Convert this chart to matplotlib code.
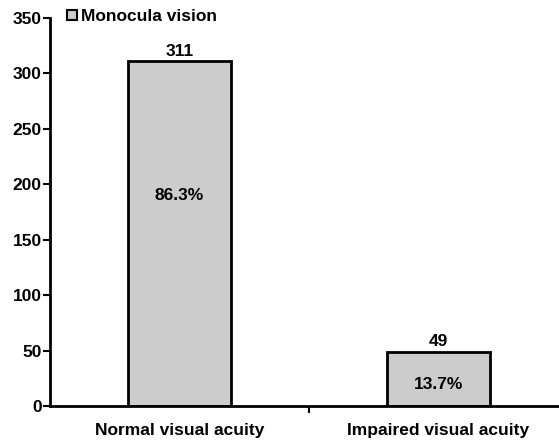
import matplotlib.pyplot as plt
from matplotlib.lines import Line2D

categories = ["Normal visual acuity", "Impaired visual acuity"]
counts = [311, 49]
percents = ["86.3%", "13.7%"]
pct_y = [190, 19]
yticks = [0, 50, 100, 150, 200, 250, 300, 350]

plt.rcParams['font.family'] = ['Liberation Sans', 'DejaVu Sans']
plt.rcParams['font.size'] = 12.5
plt.rcParams['font.weight'] = 'bold'

fig = plt.figure(figsize=(5.59, 4.42), dpi=100)
# the x axis runs a little past the right edge of the figure
ax = fig.add_axes([50 / 559, 36 / 442, 518 / 559, 388 / 442])

pos = [0.5, 1.5]
ax.bar(pos, counts, width=0.40, color="#cccccc", edgecolor="black", linewidth=2)

for x, c, p, py in zip(pos, counts, percents, pct_y):
    ax.text(x, c + 2, str(c), ha="center", va="bottom")
    ax.text(x, py, p, ha="center", va="center")

ax.set_xlim(0, 2)
ax.set_ylim(0, 350)
ax.set_yticks(yticks)
ax.set_xticks([1])
ax.set_xticklabels([""])
ax.set_xticks(pos, minor=True)
ax.set_xticklabels(categories, minor=True)
ax.tick_params(axis="x", which="minor", length=0, pad=12)
ax.tick_params(axis="x", which="major", length=5, width=1.5)
ax.tick_params(axis="y", length=5, width=1.5, pad=1)

for s in ["top", "right"]:
    ax.spines[s].set_visible(False)
for s in ["left", "bottom"]:
    ax.spines[s].set_linewidth(2)

handle = Line2D([], [], marker="s", linestyle="none", markersize=7.5,
                markerfacecolor="#cccccc", markeredgecolor="black", markeredgewidth=1.5)
ax.legend([handle], ["Monocula vision"], loc="upper left", bbox_to_anchor=(0.012, 1.045),
          frameon=False, handletextpad=0.15, borderpad=0, handlelength=0.8)

fig.savefig("out.png", dpi=100)
